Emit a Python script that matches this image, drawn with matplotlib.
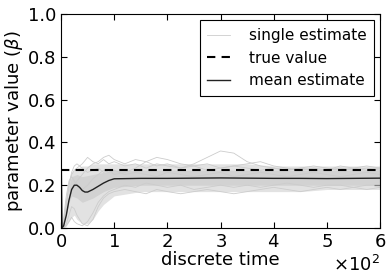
import numpy as np
import matplotlib
matplotlib.use('Agg')
import matplotlib.pyplot as plt
from matplotlib.ticker import ScalarFormatter

plt.rcParams['font.family'] = ['DejaVu Sans']
plt.rcParams['mathtext.fontset'] = 'dejavusans'
plt.rcParams['xtick.direction'] = 'in'
plt.rcParams['ytick.direction'] = 'in'
plt.rcParams['xtick.top'] = True
plt.rcParams['ytick.right'] = True

# values
true_value = 0.27

t_mean = [0, 2, 5, 10, 15, 20, 25, 30, 35, 40, 45, 50, 60, 70, 80, 90, 100,
          150, 200, 250, 300, 350, 400, 450, 500, 550, 600]
mean_est = [0.40, 0.0, 0.01, 0.06, 0.13, 0.18, 0.20, 0.20, 0.19, 0.175, 0.168,
            0.168, 0.18, 0.195, 0.21, 0.222, 0.23,
            0.232, 0.232, 0.233, 0.234, 0.233, 0.232, 0.232, 0.231, 0.232, 0.233]

# outer envelope of the cloud of single estimates
t_band = [2, 5, 10, 15, 20, 25, 30, 40, 50, 60, 70, 80, 90, 100, 125, 150,
          200, 250, 300, 350, 400, 450, 500, 550, 600]
band_lo = [0, 0, 0.01, 0.03, 0.05, 0.06, 0.04, 0.02, 0.02, 0.04, 0.08, 0.11,
           0.13, 0.15, 0.16, 0.17, 0.17, 0.17, 0.17, 0.17, 0.17, 0.17, 0.18,
           0.18, 0.18]
band_hi = [0.01, 0.05, 0.15, 0.23, 0.26, 0.27, 0.28, 0.29, 0.29, 0.30, 0.30,
           0.30, 0.30, 0.30, 0.30, 0.30, 0.30, 0.30, 0.30, 0.30, 0.29, 0.29,
           0.29, 0.29, 0.29]

# dense core of the cloud
t_core = [15, 20, 30, 40, 60, 80, 100, 150, 200, 300, 400, 500, 600]
core_lo = [0.12, 0.15, 0.14, 0.12, 0.14, 0.17, 0.19, 0.20, 0.20, 0.20, 0.20, 0.20, 0.20]
core_hi = [0.20, 0.24, 0.25, 0.24, 0.25, 0.26, 0.27, 0.27, 0.27, 0.27, 0.27, 0.27, 0.27]

# a few individual runs
t_run = [0, 1, 5, 10, 15, 20, 25, 30, 40, 50, 60, 70, 80, 90, 100, 120, 140,
         160, 180, 200, 225, 250, 275, 300, 325, 350, 375, 400, 425, 450, 475,
         500, 525, 550, 575, 600]
run_a = [0.4, 0, 0.02, 0.10, 0.20, 0.25, 0.27, 0.28, 0.30, 0.33, 0.31, 0.30,
         0.32, 0.30, 0.31, 0.29, 0.30, 0.28, 0.30, 0.29, 0.28, 0.30, 0.33, 0.36,
         0.35, 0.31, 0.29, 0.28, 0.27, 0.28, 0.27, 0.27, 0.28, 0.27, 0.28, 0.27]
run_b = [0.4, 0, 0.00, 0.01, 0.03, 0.05, 0.03, 0.02, 0.01, 0.03, 0.07, 0.12,
         0.15, 0.17, 0.18, 0.20, 0.19, 0.21, 0.20, 0.19, 0.20, 0.18, 0.19, 0.20,
         0.19, 0.20, 0.19, 0.20, 0.21, 0.20, 0.19, 0.20, 0.20, 0.19, 0.20, 0.20]
run_c = [0.4, 0, 0.05, 0.15, 0.22, 0.24, 0.22, 0.20, 0.18, 0.20, 0.23, 0.25,
         0.27, 0.26, 0.27, 0.25, 0.26, 0.25, 0.24, 0.26, 0.25, 0.24, 0.25, 0.26,
         0.24, 0.25, 0.26, 0.25, 0.24, 0.25, 0.26, 0.25, 0.24, 0.25, 0.26, 0.25]
run_d = [0.4, 0, 0.01, 0.06, 0.12, 0.17, 0.20, 0.22, 0.25, 0.28, 0.30, 0.31,
         0.33, 0.34, 0.32, 0.30, 0.32, 0.31, 0.29, 0.30, 0.28, 0.29, 0.27, 0.28,
         0.29, 0.28, 0.27, 0.28, 0.27, 0.28, 0.29, 0.28, 0.27, 0.28, 0.29, 0.28]
run_e = [0.4, 0, 0.00, 0.02, 0.06, 0.10, 0.09, 0.06, 0.02, 0.01, 0.04, 0.10,
         0.14, 0.16, 0.17, 0.18, 0.17, 0.16, 0.18, 0.17, 0.16, 0.17, 0.18, 0.17,
         0.16, 0.17, 0.18, 0.19, 0.18, 0.17, 0.18, 0.19, 0.18, 0.19, 0.18, 0.19]
run_f = [0.4, 0, 0.03, 0.12, 0.20, 0.26, 0.29, 0.30, 0.28, 0.26, 0.27, 0.28,
         0.26, 0.27, 0.25, 0.26, 0.28, 0.31, 0.33, 0.32, 0.30, 0.29, 0.30, 0.28,
         0.29, 0.30, 0.31, 0.29, 0.28, 0.27, 0.28, 0.27, 0.29, 0.28, 0.27, 0.28]
runs = [run_a, run_b, run_c, run_d, run_e, run_f]

fig = plt.figure(figsize=(3.91, 2.77), dpi=100)
ax = fig.add_axes([0.156, 0.177, 0.816, 0.772])

ax.fill_between(t_band, band_lo, band_hi, color='#e2e2e2', lw=0)
ax.fill_between(t_core, core_lo, core_hi, color='#d2d2d2', lw=0)
for i, r in enumerate(runs):
    ax.plot(t_run, r, color='#cccccc', lw=0.6,
            label='single estimate' if i == 0 else None)
ax.axhline(true_value, color='k', ls='--', lw=1.5, dashes=(4, 3), label='true value')
ax.plot(t_mean, mean_est, color='#222222', lw=1.0, label='mean estimate')

ax.set_xlim(0, 600)
ax.set_ylim(0, 1.0)
ax.set_xticks([0, 100, 200, 300, 400, 500, 600])
ax.set_yticks([0.0, 0.2, 0.4, 0.6, 0.8, 1.0])
fmt = ScalarFormatter(useMathText=True)
fmt.set_powerlimits((0, 0))
ax.xaxis.set_major_formatter(fmt)
ax.tick_params(labelsize=13, length=4, width=0.8)
ax.xaxis.get_offset_text().set_fontsize(13)

ax.set_xlabel('discrete time', fontsize=13, labelpad=0)
ax.set_ylabel(r'parameter value ($\beta$)', fontsize=13, labelpad=2)

leg = ax.legend(loc='upper right', fontsize=11, fancybox=False,
                edgecolor='k', framealpha=1, handlelength=1.5,
                handletextpad=1.2, borderpad=0.5, labelspacing=0.5,
                borderaxespad=0.4)
leg.get_frame().set_linewidth(0.8)

fig.savefig('out.png', dpi=100)
